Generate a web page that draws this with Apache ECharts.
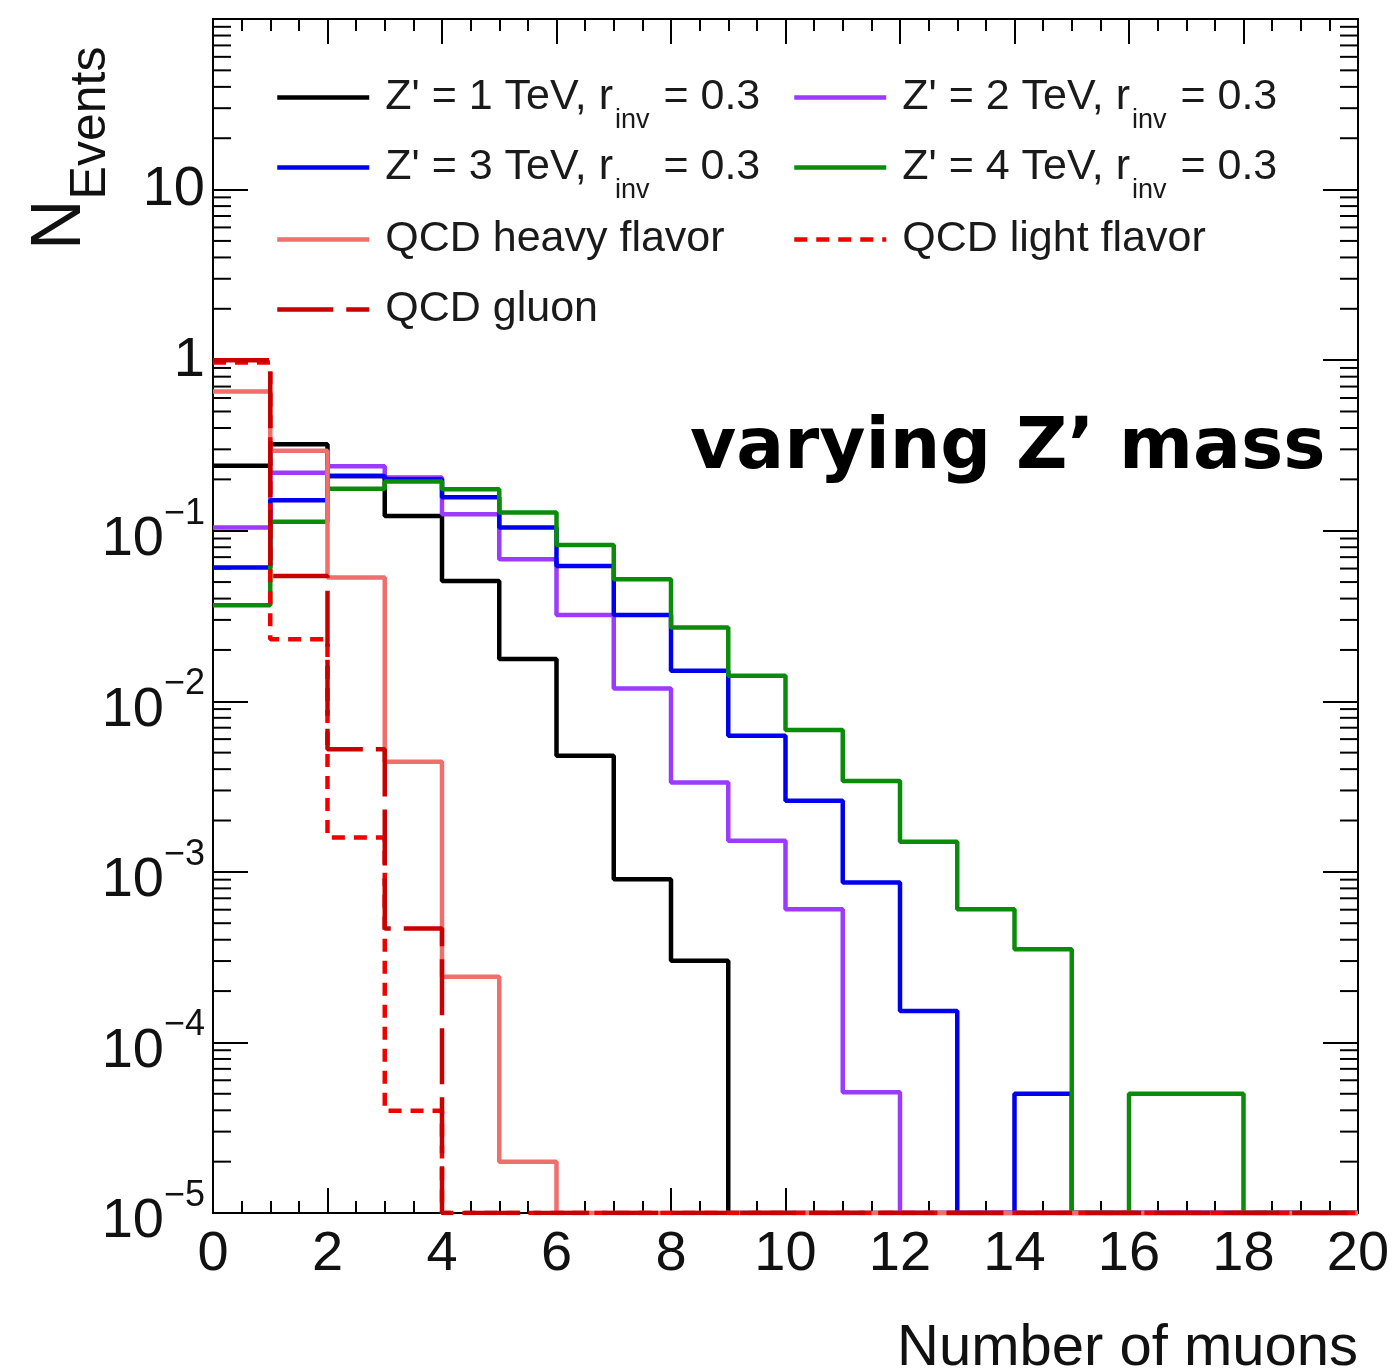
<!DOCTYPE html>
<html>
<head>
<meta charset="utf-8">
<script src="https://cdn.jsdelivr.net/npm/echarts@6/dist/echarts.min.js"></script>
<style>
  html, body { margin: 0; padding: 0; background: #fff; }
  #chart { width: 1393px; height: 1372px; }
</style>
</head>
<body>
<div id="chart"></div>
<script>
// bin low edges (number of muons), one bin per unit from 0 to 20
const bins = [0, 1, 2, 3, 4, 5, 6, 7, 8, 9, 10, 11, 12, 13, 14, 15, 16, 17, 18, 19];

// normalised event fractions (0 = empty bin)
const zp1TeV = [0.240, 0.321, 0.209, 0.122, 0.0508, 0.0177, 0.00479, 0.000906, 0.000301, 0, 0, 0, 0, 0, 0, 0, 0, 0, 0, 0];
const zp2TeV = [0.1045, 0.219, 0.239, 0.205, 0.125, 0.068, 0.032, 0.0119, 0.00334, 0.00152, 0.000604, 0.000051, 0, 0, 0, 0, 0, 0, 0, 0];
const zp3TeV = [0.0608, 0.151, 0.209, 0.200, 0.157, 0.1045, 0.0622, 0.032, 0.0151, 0.00627, 0.00261, 0.000867, 0.000153, 0, 0.00005, 0, 0, 0, 0, 0];
const zp4TeV = [0.0366, 0.1128, 0.176, 0.194, 0.175, 0.128, 0.0826, 0.052, 0.0271, 0.0141, 0.00679, 0.00341, 0.00150, 0.000604, 0.000352, 0, 0.00005, 0.00005, 0, 0];
const qcdHeavy = [0.655, 0.294, 0.0532, 0.00442, 0.000243, 0.00002, 0, 0, 0, 0, 0, 0, 0, 0, 0, 0, 0, 0, 0, 0];
const qcdLight = [0.97, 0.0231, 0.00159, 0.0000397, 0, 0, 0, 0, 0, 0, 0, 0, 0, 0, 0, 0, 0, 0, 0, 0];
const qcdGluon = [1.0, 0.0543, 0.00523, 0.000466, 0, 0, 0, 0, 0, 0, 0, 0, 0, 0, 0, 0, 0, 0, 0, 0];

const yMin = 1e-5;
const yMax = 100;
const minorMult = [2, 3, 4, 5, 6, 7, 8, 9];
const decades = [-5, -4, -3, -2, -1, 0, 1];

const FONT = 'Liberation Sans';

// histogram as a step line: one point per bin low edge plus the last upper edge
function toSteps(vals) {
  const pts = bins.map((b, i) => [b, vals[i] > 0 ? vals[i] : yMin]);
  pts.push([bins[bins.length - 1] + 1, pts[pts.length - 1][1]]);
  return pts;
}

function hist(name, vals, color, type) {
  return {
    name: name,
    type: 'line',
    step: 'end',
    symbol: 'none',
    data: toSteps(vals),
    lineStyle: { color: color, width: 4.5, type: type || 'solid' },
    itemStyle: { color: color },
    animation: false
  };
}

const minorTicks = [];
decades.forEach(e => minorMult.forEach(m => minorTicks.push([0, m * Math.pow(10, e)])));

const N1 = "Z' = 1 TeV, r_inv = 0.3";
const N2 = "Z' = 2 TeV, r_inv = 0.3";
const N3 = "Z' = 3 TeV, r_inv = 0.3";
const N4 = "Z' = 4 TeV, r_inv = 0.3";
const NH = 'QCD heavy flavor';
const NL = 'QCD light flavor';
const NG = 'QCD gluon';

function legendText(name) {
  if (name.indexOf('r_inv') >= 0) {
    const p = name.split('r_inv');
    return '{t|' + p[0] + 'r}{s|inv}{t|' + p[1] + '}';
  }
  return '{t|' + name + '}';
}

const legendRich = {
  t: { fontSize: 43, fontFamily: FONT, color: '#1a1a1a', lineHeight: 46 },
  s: { fontSize: 27, fontFamily: FONT, color: '#1a1a1a', lineHeight: 28, padding: [46, 2, 0, 2] }
};

// one legend box per entry so that rows sit on a fixed pitch
function legendItem(name, left, rowY) {
  // plain entries have a shorter text box, which moves the box up a bit
  const shift = name.indexOf('r_inv') >= 0 ? 0 : 9;
  return {
    left: left,
    top: rowY - 37 + shift,
    padding: 0,
    itemWidth: 92,
    itemHeight: 74,
    data: [name],
    formatter: legendText,
    itemStyle: { opacity: 0 },
    lineStyle: { width: 4.5 },
    textStyle: { rich: legendRich, padding: [0, 0, 0, 11] },
    selectedMode: false
  };
}

const axisBase = {
  axisLine: { onZero: false, lineStyle: { color: '#000', width: 2 } },
  splitLine: { show: false }
};

const chart = echarts.init(document.getElementById('chart'));

chart.setOption({
  backgroundColor: '#fff',
  animation: false,
  grid: { left: 213, right: 35, top: 19, bottom: 159 },
  legend: [
    legendItem(N1, 275, 98),
    legendItem(N3, 275, 168),
    legendItem(NH, 275, 238),
    legendItem(NG, 275, 308),
    legendItem(N2, 792, 98),
    legendItem(N4, 792, 168),
    legendItem(NL, 792, 238)
  ],
  xAxis: [
    Object.assign({}, axisBase, {
      type: 'value', min: 0, max: 20, interval: 2, position: 'bottom',
      axisTick: { inside: true, length: 25, lineStyle: { color: '#000', width: 2 } },
      minorTick: { show: true, splitNumber: 4, length: 12, lineStyle: { color: '#000', width: 2 } },
      axisLabel: { fontSize: 56, fontFamily: FONT, color: '#111', margin: 14 }
    }),
    Object.assign({}, axisBase, {
      type: 'value', min: 0, max: 20, interval: 2, position: 'top',
      axisTick: { inside: true, length: 25, lineStyle: { color: '#000', width: 2 } },
      minorTick: { show: true, splitNumber: 4, length: 12, lineStyle: { color: '#000', width: 2 } },
      axisLabel: { show: false }
    })
  ],
  yAxis: [
    Object.assign({}, axisBase, {
      type: 'log', logBase: 10, min: yMin, max: yMax, interval: 1, position: 'left',
      axisTick: { show: true, inside: true, length: 35, lineStyle: { color: '#000', width: 2 } },
      axisLabel: {
        margin: 8,
        formatter: function (v) {
          const e = Math.round(Math.log10(v));
          if (e >= 2) return '';
          if (e === 1) return '{c|10}';
          if (e === 0) return '{c|1}';
          return '{b|10}{p|\u2212' + (-e) + '}';
        },
        rich: {
          c: { fontSize: 56, fontFamily: FONT, color: '#111' },
          b: { fontSize: 56, fontFamily: FONT, color: '#111', padding: [18, 0, 0, 0] },
          p: { fontSize: 36, fontFamily: FONT, color: '#111', padding: [0, 0, 34, 0] }
        }
      }
    }),
    Object.assign({}, axisBase, {
      type: 'log', logBase: 10, min: yMin, max: yMax, interval: 1, position: 'right',
      axisTick: { show: true, inside: true, length: 35, lineStyle: { color: '#000', width: 2 } },
      axisLabel: { show: false }
    })
  ],
  series: [
    hist(N1, zp1TeV, '#000000'),
    hist(N2, zp2TeV, '#9b3bff'),
    hist(N3, zp3TeV, '#0000ee'),
    hist(N4, zp4TeV, '#0a8c0a'),
    hist(NH, qcdHeavy, '#f06e6c'),
    hist(NL, qcdLight, '#f00000', [13, 9]),
    hist(NG, qcdGluon, '#c80000', [56, 13]),
    {
      type: 'custom',
      silent: true,
      data: minorTicks,
      renderItem: function (params, api) {
        const cs = params.coordSys;
        const y = api.coord([0, api.value(1)])[1];
        const st = { stroke: '#000', lineWidth: 2 };
        return {
          type: 'group',
          children: [
            { type: 'line', shape: { x1: cs.x, y1: y, x2: cs.x + 18, y2: y }, style: st },
            { type: 'line', shape: { x1: cs.x + cs.width, y1: y, x2: cs.x + cs.width - 18, y2: y }, style: st }
          ]
        };
      }
    }
  ],
  graphic: [
    {
      type: 'text', left: 690, top: 414,
      style: { text: 'varying Z\u2019 mass', font: 'bold 71px "DejaVu Sans"', fill: '#000' }
    },
    {
      type: 'text', right: 35, top: 1320,
      style: { text: 'Number of muons', font: '58px "Liberation Sans"', fill: '#111' }
    },
    {
      type: 'text', x: 116, y: 250, rotation: Math.PI / 2,
      style: {
        text: '{n|N}{e|Events}',
        align: 'left',
        verticalAlign: 'bottom',
        rich: {
          n: { fontSize: 70, fontFamily: FONT, fill: '#111' },
          e: { fontSize: 50, fontFamily: FONT, fill: '#111', padding: [60, 0, 0, 0] }
        }
      }
    }
  ]
});
</script>
</body>
</html>
